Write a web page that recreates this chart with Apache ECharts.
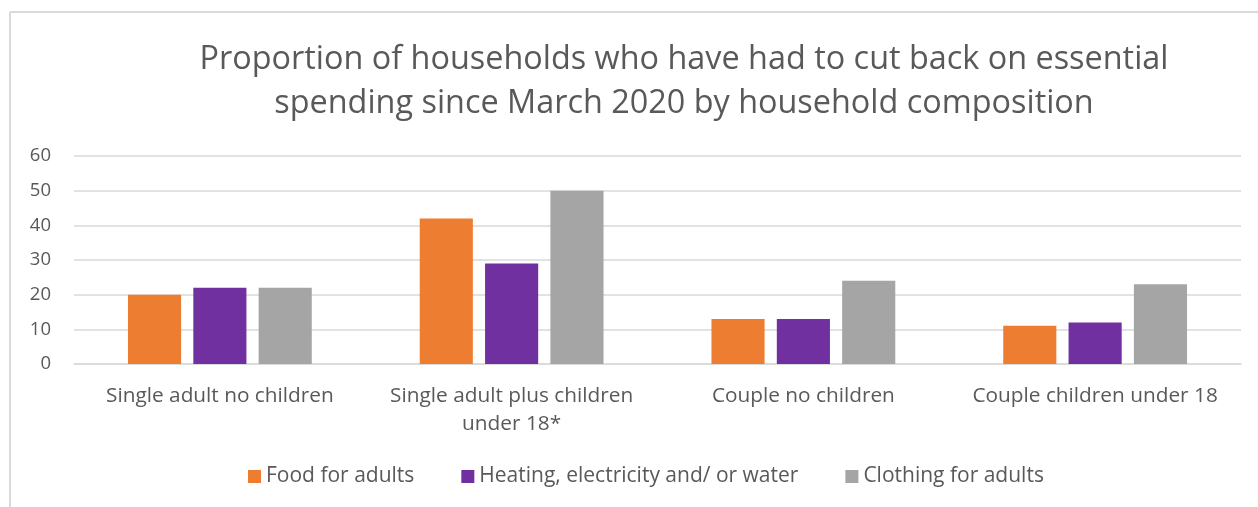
<!DOCTYPE html>
<html>
<head>
<meta charset="utf-8">
<script src="https://cdn.jsdelivr.net/npm/echarts@6/dist/echarts.min.js"></script>
<style>
html,body{margin:0;padding:0;background:#fff;}
#chart{width:1258px;height:507px;}
</style>
</head>
<body>
<div id="chart"></div>
<script>
const categories = ["Single adult no children", "Single adult plus children\nunder 18*", "Couple no children", "Couple children under 18"];
const seriesNames = ["Food for adults", "Heating, electricity and/ or water", "Clothing for adults"];
const foodValues = [20, 42, 13, 11];
const heatingValues = [22, 29, 13, 12];
const clothingValues = [22, 50, 24, 23];
const yTicks = [0, 10, 20, 30, 40, 50, 60];
const colors = ["#ED7D31", "#7030A0", "#A5A5A5"];
const titleText = "Proportion of households who have had to cut back on essential\nspending since March 2020 by household composition";

const FONT = "'Open Sans', sans-serif";
const chart = echarts.init(document.getElementById('chart'));
const seriesData = [foodValues, heatingValues, clothingValues];
chart.setOption({
  animation: false,
  color: colors,
  title: {
    text: titleText,
    left: 679, top: 33, textAlign: 'center',
    textStyle: { fontFamily: FONT, fontSize: 32.4, fontWeight: 'normal', color: '#595959', lineHeight: 44 }
  },
  legend: {
    data: seriesNames,
    bottom: 15, left: 243,
    itemWidth: 13, itemHeight: 13, itemGap: 47,
    icon: 'rect',
    textStyle: { fontFamily: FONT, fontSize: 21, color: '#595959' }
  },
  grid: { left: 74, right: 17, top: 156, bottom: 143 },
  xAxis: {
    type: 'category', data: categories,
    axisLine: { show: true, lineStyle: { color: '#d9d9d9', width: 1.5 } },
    axisTick: { show: false },
    axisLabel: { fontFamily: FONT, fontSize: 20.8, color: '#595959', margin: 18, lineHeight: 28, interval: 0 }
  },
  yAxis: {
    type: 'value', min: yTicks[0], max: yTicks[yTicks.length - 1], interval: 10,
    axisLine: { show: false }, axisTick: { show: false },
    splitLine: { lineStyle: { color: '#d9d9d9', width: 1.5 } },
    axisLabel: { fontFamily: FONT, fontSize: 18.5, color: '#595959', margin: 23 }
  },
  series: seriesNames.map((n, i) => ({
    name: n, type: 'bar', data: seriesData[i],
    barGap: '23%', barCategoryGap: '37%',
    itemStyle: { color: colors[i] }
  })),
  graphic: [
    { type: 'line', shape: { x1: 10, y1: 12, x2: 10, y2: 507 }, style: { stroke: '#d9d9d9', lineWidth: 2 } },
    { type: 'line', shape: { x1: 10, y1: 12, x2: 1258, y2: 12 }, style: { stroke: '#d9d9d9', lineWidth: 2 } }
  ]
});
</script>
</body>
</html>
